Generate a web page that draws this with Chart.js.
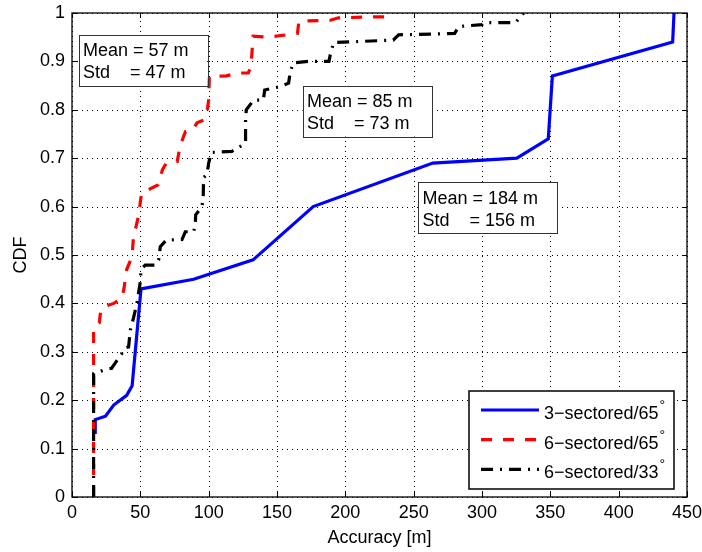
<!DOCTYPE html>
<html>
<head>
<meta charset="utf-8">
<script src="https://cdn.jsdelivr.net/npm/chart.js@4.4.1/dist/chart.umd.min.js"></script>
<style>
  html, body { margin: 0; padding: 0; background: #fff; }
  #wrap { width: 702px; height: 552px; }
</style>
</head>
<body>
<div id="wrap"><canvas id="cdf" width="702" height="552"></canvas></div>
<script>
// ---- data: [accuracy (m), CDF] ----
const sector3_65 = [
  [17, 0.13], [17, 0.16], [24.5, 0.167], [30.5, 0.19], [40, 0.21], [44, 0.23],
  [50.5, 0.43], [89, 0.45], [132.5, 0.49], [176.5, 0.60], [264, 0.69],
  [325.5, 0.70], [348.5, 0.74], [351.5, 0.87], [439.5, 0.94], [440.5, 1.0]
];
const sector6_65 = [
  [15.8, 0], [15.8, 0.35], [20, 0.36], [21, 0.385], [23, 0.393], [30.5, 0.40],
  [36.5, 0.41], [38, 0.43], [40, 0.47], [44, 0.497], [45, 0.54], [47, 0.56],
  [49, 0.585], [50, 0.61], [51, 0.628], [56, 0.635], [63, 0.645], [64.5, 0.655],
  [66, 0.675], [69, 0.69], [77, 0.693], [79, 0.724], [81, 0.74], [83, 0.755],
  [88, 0.757], [91.5, 0.773], [96.5, 0.779], [99, 0.80], [100, 0.82], [100.5, 0.869],
  [113, 0.870], [121, 0.876], [129, 0.876], [131, 0.89], [132.5, 0.952],
  [144, 0.95], [165, 0.958], [166, 0.983], [189, 0.985], [195, 0.99],
  [221, 0.992], [229.5, 0.992], [230, 1.0]
];
const sector6_33 = [
  [15.8, 0], [15.8, 0.255], [23, 0.262], [29, 0.266], [31.7, 0.277], [36.6, 0.297],
  [39, 0.308], [41.4, 0.31], [42.7, 0.345], [45, 0.37], [47.5, 0.40], [50, 0.445],
  [50.5, 0.47], [53.6, 0.479], [61, 0.479], [63.4, 0.49], [64.6, 0.517], [69, 0.531],
  [80.5, 0.532], [82.9, 0.548], [89, 0.548], [90.2, 0.562], [90.5, 0.583], [95.1, 0.6],
  [96, 0.62], [96.3, 0.66], [98.8, 0.667], [100, 0.69], [102, 0.712], [117, 0.714],
  [123, 0.724], [127, 0.732], [127, 0.78], [127.5, 0.80], [132.9, 0.82], [140, 0.82],
  [141, 0.841], [151, 0.847], [158.5, 0.855], [159.7, 0.879], [162, 0.897], [173, 0.90],
  [188, 0.90], [189, 0.914], [191.4, 0.939], [235, 0.944], [239, 0.955], [272, 0.957],
  [280, 0.958], [283, 0.972], [300, 0.976], [301.5, 0.98], [324.5, 0.98], [330.5, 1.0]
];

const seriesNames = ['3\u2212sectored/65', '6\u2212sectored/65', '6\u2212sectored/33'];
const statsText = [
  ['Mean = 57 m', 'Std    = 47 m'],
  ['Mean = 85 m', 'Std    = 73 m'],
  ['Mean = 184 m', 'Std    = 156 m']
];
// top-left corner of each stats box, in data units
const statsAnchor = [[4.8, 0.955], [168.7, 0.85], [253.2, 0.65]];

const FONT = '"Liberation Sans", Arial, Helvetica, sans-serif';
const toXY = pts => pts.map(p => ({ x: p[0], y: p[1] }));

// MATLAB-like axes: dotted grid, boxed frame with inward ticks, legend, text boxes
const matlabAxes = {
  id: 'matlabAxes',
  beforeDatasetsDraw(chart) {
    const { ctx, chartArea: a, scales: { x, y } } = chart;
    ctx.save();
    ctx.strokeStyle = '#000';
    ctx.lineWidth = 1;
    ctx.setLineDash([1, 4]);
    x.ticks.forEach(t => {
      const px = Math.round(x.getPixelForValue(t.value)) + 0.5;
      ctx.beginPath(); ctx.moveTo(px, a.bottom); ctx.lineTo(px, a.top); ctx.stroke();
    });
    y.ticks.forEach(t => {
      const py = Math.round(y.getPixelForValue(t.value)) + 0.5;
      ctx.beginPath(); ctx.moveTo(a.left, py); ctx.lineTo(a.right, py); ctx.stroke();
    });
    ctx.restore();
  },
  afterDatasetsDraw(chart) {
    const { ctx, chartArea: a, scales: { x, y } } = chart;
    ctx.save();
    ctx.strokeStyle = '#000';
    ctx.lineWidth = 1.3;
    ctx.strokeRect(a.left, a.top, a.right - a.left, a.bottom - a.top);
    ctx.lineWidth = 1;
    const tl = 5;
    x.ticks.forEach(t => {
      const px = Math.round(x.getPixelForValue(t.value)) + 0.5;
      ctx.beginPath();
      ctx.moveTo(px, a.bottom); ctx.lineTo(px, a.bottom - tl);
      ctx.moveTo(px, a.top); ctx.lineTo(px, a.top + tl);
      ctx.stroke();
    });
    y.ticks.forEach(t => {
      const py = Math.round(y.getPixelForValue(t.value)) + 0.5;
      ctx.beginPath();
      ctx.moveTo(a.left, py); ctx.lineTo(a.left + tl, py);
      ctx.moveTo(a.right, py); ctx.lineTo(a.right - tl, py);
      ctx.stroke();
    });
    ctx.restore();
  },
  afterDraw(chart) {
    const { ctx, chartArea: a, scales: { x, y } } = chart;
    ctx.save();
    ctx.font = '18px ' + FONT;
    ctx.textBaseline = 'middle';
    ctx.fillStyle = '#000';

    // stats boxes
    statsText.forEach((lines, i) => {
      const bx = x.getPixelForValue(statsAnchor[i][0]);
      const by = y.getPixelForValue(statsAnchor[i][1]);
      const w = Math.max(...lines.map(s => ctx.measureText(s).width)) + 23;
      ctx.fillStyle = '#fff';
      ctx.fillRect(bx, by, w, 51);
      ctx.strokeStyle = '#333';
      ctx.lineWidth = 1;
      ctx.strokeRect(Math.round(bx) + 0.5, Math.round(by) + 0.5, Math.round(w), 51);
      ctx.fillStyle = '#000';
      ctx.textAlign = 'left';
      lines.forEach((s, j) => ctx.fillText(s, bx + 4.5, by + 16.5 + j * 22));
    });

    // legend, lower right inside the axes
    const lg = { left: a.right - 218, top: a.bottom - 106, w: 205, h: 98 };
    ctx.fillStyle = '#fff';
    ctx.fillRect(lg.left, lg.top, lg.w, lg.h);
    ctx.strokeStyle = '#000';
    ctx.lineWidth = 1.5;
    ctx.strokeRect(lg.left, lg.top, lg.w, lg.h);
    chart.data.datasets.forEach((ds, i) => {
      const ly = lg.top + 19 + i * 29.7;
      ctx.save();
      ctx.strokeStyle = ds.borderColor;
      ctx.lineWidth = ds.borderWidth;
      ctx.setLineDash(ds.borderDash || []);
      ctx.beginPath(); ctx.moveTo(lg.left + 12, ly); ctx.lineTo(lg.left + 70, ly); ctx.stroke();
      ctx.restore();
      ctx.fillStyle = '#000';
      ctx.font = '18px ' + FONT;
      ctx.textAlign = 'left';
      ctx.fillText(seriesNames[i], lg.left + 75, ly + 4);
      const tw = ctx.measureText(seriesNames[i]).width;
      ctx.font = '14px ' + FONT;
      ctx.fillText('\u00b0', lg.left + 75 + tw + 1, ly - 4);
    });
    ctx.restore();
  }
};

new Chart(document.getElementById('cdf'), {
  type: 'scatter',
  data: {
    datasets: [
      { label: seriesNames[0], data: toXY(sector3_65), borderColor: '#0000ff', borderWidth: 3.2,
        showLine: true, pointRadius: 0, order: 2 },
      { label: seriesNames[1], data: toXY(sector6_65), borderColor: '#ff0000', borderWidth: 3.2,
        borderDash: [11, 11], showLine: true, pointRadius: 0, order: 1 },
      { label: seriesNames[2], data: toXY(sector6_33), borderColor: '#000000', borderWidth: 3.2,
        borderDash: [12, 7, 2, 7], showLine: true, pointRadius: 0, order: 0 }
    ]
  },
  options: {
    responsive: false,
    animation: false,
    devicePixelRatio: 1,
    layout: { padding: { left: 0, top: 13, right: 15, bottom: 0 } },
    plugins: { legend: { display: false }, tooltip: { enabled: false } },
    scales: {
      x: {
        type: 'linear', min: 0, max: 450,
        ticks: { stepSize: 50, color: '#000', padding: 5, font: { family: FONT, size: 18 } },
        grid: { display: false, drawTicks: false },
        border: { display: false },
        title: { display: true, text: 'Accuracy [m]', color: '#000',
                 font: { family: FONT, size: 18 }, padding: { top: 0, bottom: 3 } },
        afterFit: s => { s.height = 55; s.paddingLeft = 0; s.paddingRight = 0; }
      },
      y: {
        min: 0, max: 1,
        ticks: { stepSize: 0.1, color: '#000', padding: 7, font: { family: FONT, size: 18 },
                 callback: v => String(Number(v.toFixed(1))) },
        grid: { display: false, drawTicks: false },
        border: { display: false },
        title: { display: true, text: 'CDF', color: '#000',
                 font: { family: FONT, size: 18 }, padding: { top: 10, bottom: 0 } },
        afterFit: s => { s.width = 72; s.paddingTop = 0; s.paddingBottom = 0; }
      }
    }
  },
  plugins: [matlabAxes]
});
</script>
</body>
</html>
